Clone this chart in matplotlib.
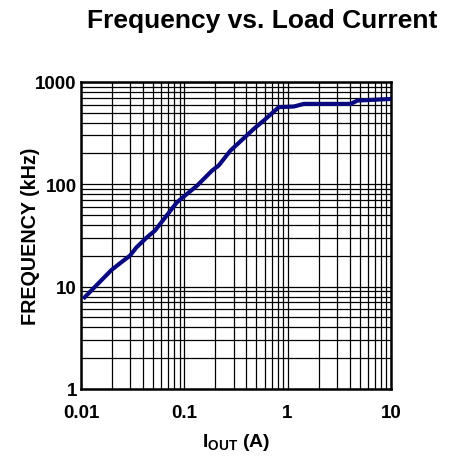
import matplotlib
matplotlib.use("Agg")
import matplotlib.pyplot as plt
from matplotlib.ticker import LogLocator, FixedLocator, FixedFormatter, NullFormatter

plt.rcParams['font.family'] = ['Liberation Sans', 'DejaVu Sans']
plt.rcParams['mathtext.fontset'] = 'custom'
plt.rcParams['mathtext.bf'] = 'Liberation Sans:bold'

# Data
current_a = [0.0105, 0.0197, 0.0246, 0.0297, 0.0345, 0.0435, 0.052, 0.085, 0.133,
             0.186, 0.215, 0.28, 0.471, 0.589, 0.823, 1.15, 1.44, 4.09, 4.75, 10.0]
freq_khz = [7.6, 14.5, 17.3, 20.0, 24.2, 30.3, 35.2, 66.7, 96.8,
            136, 152, 213, 347, 419, 566, 574, 609, 609, 656, 680]

x_ticks = [0.01, 0.1, 1, 10]
x_tick_labels = ["0.01", "0.1", "1", "10"]
y_ticks = [1, 10, 100, 1000]
y_tick_labels = ["1", "10", "100", "1000"]

fig = plt.figure(figsize=(4.55, 4.64), dpi=100)
ax = fig.add_axes([0.178, 0.1595, 0.681, 0.662])

ax.set_xscale('log')
ax.set_yscale('log')
ax.set_xlim(0.01, 10)
ax.set_ylim(1, 1000)

ax.plot(current_a, freq_khz, color='#0a0a80', lw=3.0, solid_capstyle='butt', zorder=5)

ax.xaxis.set_major_locator(FixedLocator(x_ticks))
ax.xaxis.set_major_formatter(FixedFormatter(x_tick_labels))
ax.yaxis.set_major_locator(FixedLocator(y_ticks))
ax.yaxis.set_major_formatter(FixedFormatter(y_tick_labels))
ax.xaxis.set_minor_locator(LogLocator(base=10, subs=range(2, 10)))
ax.yaxis.set_minor_locator(LogLocator(base=10, subs=range(2, 10)))
ax.xaxis.set_minor_formatter(NullFormatter())
ax.yaxis.set_minor_formatter(NullFormatter())

ax.grid(True, which='both', color='black', lw=0.9)
ax.tick_params(which='both', length=0, labelsize=13.5)
ax.tick_params(axis='y', pad=3)
ax.tick_params(axis='x', pad=11)
for lab in ax.get_xticklabels() + ax.get_yticklabels():
    lab.set_fontweight('bold')

for sp in ax.spines.values():
    sp.set_linewidth(1.8)
    sp.set_color('black')

ax.set_ylabel("FREQUENCY (kHz)", fontsize=14.2, fontweight='bold')
ax.yaxis.set_label_coords(-0.132, 0.5)
ax.set_xlabel(r"I$_{\mathbf{OUT}}$ (A)", fontsize=14, fontweight='bold', labelpad=7)

fig.text(0.577, 0.955, "Frequency vs. Load Current", ha='center', va='center',
         fontsize=19, fontweight='bold')

fig.savefig("out.png", dpi=100)
